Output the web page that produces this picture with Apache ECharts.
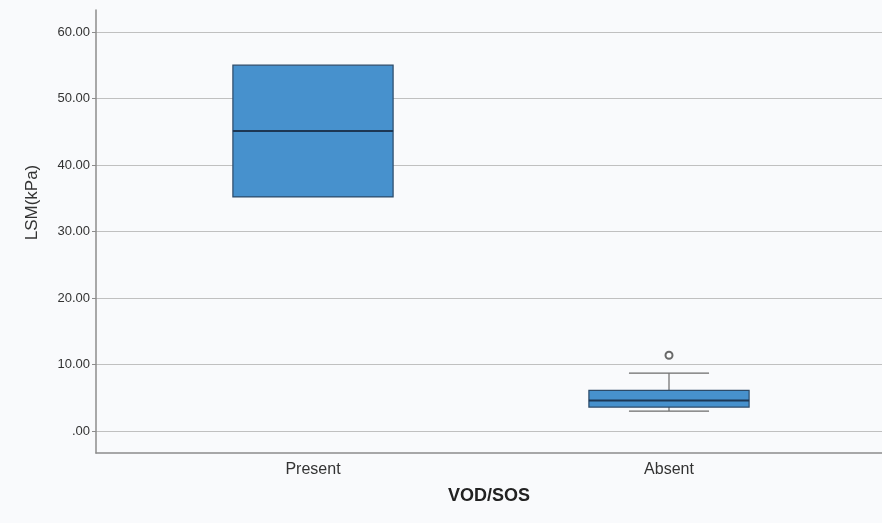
<!DOCTYPE html>
<html>
<head>
<meta charset="utf-8">
<script src="https://cdn.jsdelivr.net/npm/echarts@6/dist/echarts.min.js"></script>
<style>
  html, body { margin: 0; padding: 0; background: #f9fafc; }
  #chart { width: 882px; height: 523px; }
</style>
</head>
<body>
<div id="chart"></div>
<script>
// values (LSM in kPa)
const categories = ['Present', 'Absent']
const lowerWhisker = [35.2, 3.0]
const q1 = [35.2, 3.6]
const median = [45.1, 4.6]
const q3 = [55.0, 6.1]
const upperWhisker = [55.0, 8.7]
const outlierCategory = ['Absent']
const outlierValue = [11.4]

const yMin = -3.3
const yMax = 63.3

const boxData = categories.map((c, i) => [i, lowerWhisker[i], q1[i], median[i], q3[i], upperWhisker[i]])
const outlierData = outlierCategory.map((c, i) => [c, outlierValue[i]])

const renderBox = (params, api) => {
  const idx = api.value(0)
  const lo = api.value(1), a = api.value(2), m = api.value(3), b = api.value(4), hi = api.value(5)
  const band = api.size([1, 0])[0]
  const half = band * 0.45 / 2
  const capHalf = half / 2
  const cx = api.coord([idx, m])[0]
  const y = v => api.coord([idx, v])[1]
  const whisker = { stroke: '#6b6b6b', lineWidth: 1.2 }
  const children = []
  if (hi > b) {
    children.push({ type: 'line', shape: { x1: cx, y1: y(b), x2: cx, y2: y(hi) }, style: whisker })
    children.push({ type: 'line', shape: { x1: cx - capHalf, y1: y(hi), x2: cx + capHalf, y2: y(hi) }, style: whisker })
  }
  if (lo < a) {
    children.push({ type: 'line', shape: { x1: cx, y1: y(a), x2: cx, y2: y(lo) }, style: whisker })
    children.push({ type: 'line', shape: { x1: cx - capHalf, y1: y(lo), x2: cx + capHalf, y2: y(lo) }, style: whisker })
  }
  children.push({
    type: 'rect',
    shape: { x: cx - half, y: y(b), width: half * 2, height: y(a) - y(b) },
    style: { fill: '#4791cd', stroke: '#2c4a68', lineWidth: 1.2 }
  })
  children.push({
    type: 'line',
    shape: { x1: cx - half, y1: y(m), x2: cx + half, y2: y(m) },
    style: { stroke: '#1d3754', lineWidth: 2 }
  })
  return { type: 'group', children }
}

const chart = echarts.init(document.getElementById('chart'))
chart.setOption({
  backgroundColor: '#f9fafc',
  animation: false,
  grid: [
    { left: 96, right: 0, top: 10, bottom: 70 },
    { left: 135, right: 35, top: 10, bottom: 70 }
  ],
  xAxis: [
    {
      gridIndex: 0,
      type: 'value',
      min: 0,
      max: 1,
      axisLine: { show: true, onZero: false, lineStyle: { color: '#8c8c8c', width: 1.5 } },
      axisTick: { show: false },
      axisLabel: { show: false },
      splitLine: { show: false },
      name: 'VOD/SOS',
      nameLocation: 'middle',
      nameGap: 34,
      nameTextStyle: { fontFamily: 'Liberation Sans', fontSize: 18, fontWeight: 'bold', color: '#222' }
    },
    {
      gridIndex: 1,
      type: 'category',
      data: categories,
      axisLine: { show: false },
      axisTick: { show: false },
      axisLabel: { margin: 9, fontFamily: 'Liberation Sans', fontSize: 16, color: '#333' }
    }
  ],
  yAxis: [
    {
      gridIndex: 0,
      type: 'value',
      min: yMin,
      max: yMax,
      minInterval: 10,
      maxInterval: 10,
      axisLine: { show: true, lineStyle: { color: '#8c8c8c', width: 1.5 } },
      axisTick: { show: true, length: 4, lineStyle: { color: '#8c8c8c' } },
      axisLabel: {
        showMinLabel: false,
        showMaxLabel: false,
        margin: 6,
        fontFamily: 'Liberation Sans',
        fontSize: 13,
        color: '#333',
        formatter: v => (v === 0 ? '.00' : v.toFixed(2))
      },
      splitLine: {
        show: true,
        lineStyle: {
          color: ['transparent', '#c0c0c0', '#c0c0c0', '#c0c0c0', '#c0c0c0', '#c0c0c0', '#c0c0c0', '#c0c0c0', 'transparent'],
          width: 1.2
        }
      },
      name: 'LSM(kPa)',
      nameLocation: 'middle',
      nameGap: 55,
      nameTextStyle: { fontFamily: 'Liberation Sans', fontSize: 17, color: '#333', padding: [0, 0, 0, 58] }
    },
    {
      gridIndex: 1,
      type: 'value',
      min: yMin,
      max: yMax,
      show: false,
      splitLine: { show: false }
    }
  ],
  series: [
    {
      type: 'custom',
      xAxisIndex: 1,
      yAxisIndex: 1,
      renderItem: renderBox,
      encode: { x: 0, y: [1, 2, 3, 4, 5] },
      data: boxData,
      z: 3
    },
    {
      type: 'scatter',
      xAxisIndex: 1,
      yAxisIndex: 1,
      symbol: 'emptyCircle',
      symbolSize: 7,
      itemStyle: { color: '#444', borderWidth: 1 },
      data: outlierData,
      z: 4
    }
  ]
})
</script>
</body>
</html>
